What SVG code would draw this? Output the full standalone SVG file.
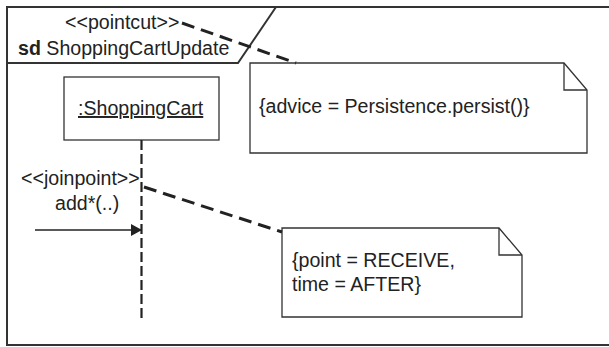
<svg xmlns="http://www.w3.org/2000/svg" width="609" height="347" viewBox="0 0 609 347">
  <style>
    .txt { font-family: "Liberation Sans", Arial, sans-serif; font-size: 19.6px; fill: #222; }
    .frame { fill: none; stroke: #333; stroke-width: 2; }
    .box { fill: #fff; stroke: #333; stroke-width: 1.3; }
    .fold { fill: none; stroke: #333; stroke-width: 1.3; }
    .lifeline { stroke: #222; stroke-width: 2.2; stroke-dasharray: 10 4; fill: none; }
    .anchor { stroke: #222; stroke-width: 3; stroke-dasharray: 13 7; fill: none; }
    .msg { stroke: #222; stroke-width: 1.3; fill: none; }
  </style>
  <defs>
    <marker id="filled" markerWidth="13" markerHeight="14" refX="11" refY="7" orient="auto" markerUnits="userSpaceOnUse">
      <path d="M0,1 L11,7 L0,13 Z" fill="#222"/>
    </marker>
  </defs>

  <!-- sequence diagram frame with name tab -->
  <g id="frame">
    <rect class="frame" x="7" y="7" width="620" height="338"/>
    <path class="frame" d="M7,63 H238 L276,7"/>
    <text class="txt" x="65" y="29">&lt;&lt;pointcut&gt;&gt;</text>
    <text class="txt" x="18" y="55"><tspan font-weight="bold">sd</tspan> ShoppingCartUpdate</text>
  </g>

  <!-- lifeline head -->
  <g id="shoppingCart">
    <rect class="box" x="64" y="77" width="155" height="63"/>
    <text class="txt" x="78" y="115" text-decoration="underline">:ShoppingCart</text>
  </g>

  <!-- advice note -->
  <g id="adviceNote">
    <path class="box" d="M250,63 H564 L587,90 V153 H250 Z"/>
    <path class="fold" d="M564,63 V90 H587"/>
    <text class="txt" x="259" y="113">{advice = Persistence.persist()}</text>
  </g>

  <!-- join point note -->
  <g id="pointNote">
    <path class="box" d="M282,228 H499 L522,255 V317 H282 Z"/>
    <path class="fold" d="M499,228 V255 H522"/>
    <text class="txt" x="292" y="267">{point = RECEIVE,</text>
    <text class="txt" x="292" y="291">time = AFTER}</text>
  </g>

  <!-- message label -->
  <g id="joinpointLabel">
    <text class="txt" x="21" y="185">&lt;&lt;joinpoint&gt;&gt;</text>
    <text class="txt" x="55" y="210">add*(..)</text>
  </g>

  <g id="connectors">
    <line class="lifeline" x1="141.5" y1="140" x2="141.5" y2="318"/>
    <line class="msg" x1="35" y1="230" x2="142" y2="230" marker-end="url(#filled)"/>
    <line class="anchor" x1="182" y1="23" x2="296" y2="63"/>
    <line class="anchor" x1="144" y1="187" x2="282" y2="232"/>
  </g>
</svg>
